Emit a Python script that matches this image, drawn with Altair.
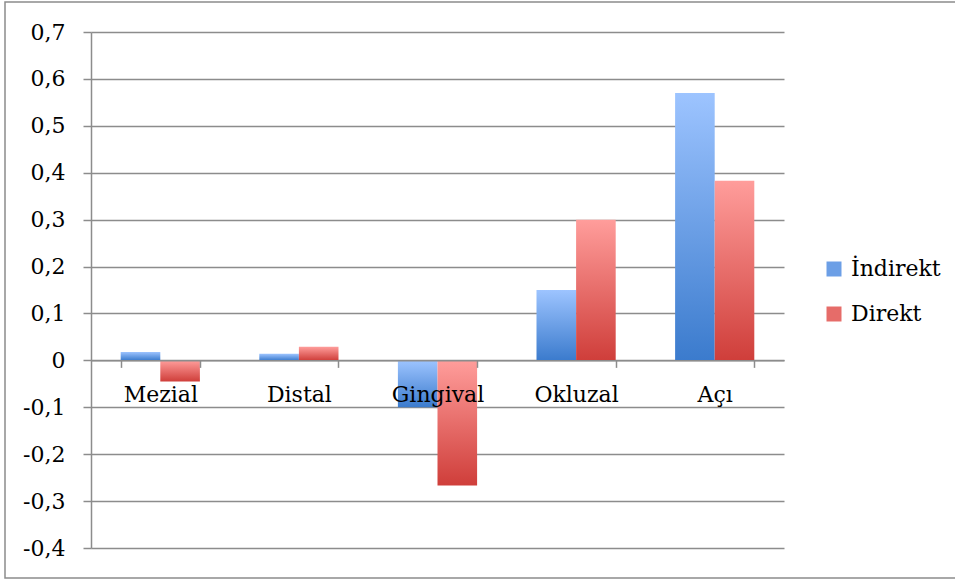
import altair as alt
import pandas as pd

categories = ["Mezial", "Distal", "Gingival", "Okluzal", "Açı"]
series = ["İndirekt", "Direkt"]
indirekt = [0.018, 0.014, -0.10, 0.15, 0.57]
direkt = [-0.045, 0.029, -0.267, 0.30, 0.383]
y_ticks = [-0.4, -0.3, -0.2, -0.1, 0.0, 0.1, 0.2, 0.3, 0.4, 0.5, 0.6, 0.7]

rows = []
for c, a, b in zip(categories, indirekt, direkt):
    rows.append({"category": c, "series": series[0], "value": a})
    rows.append({"category": c, "series": series[1], "value": b})
df = pd.DataFrame(rows)

W, H = 693, 516
YMIN, YMAX = -0.4, 0.7
zero_offset = -(0 - YMIN) / (YMAX - YMIN) * H

FONT = "DejaVu Serif"
GRID = "#8c8c8c"

blue_grad = alt.LinearGradient(
    gradient="linear",
    stops=[alt.GradientStop(color="#9dc4ff", offset=0),
           alt.GradientStop(color="#3b7bcd", offset=1)],
    x1=0, x2=0, y1=0, y2=1,
)
red_grad = alt.LinearGradient(
    gradient="linear",
    stops=[alt.GradientStop(color="#ff9d9b", offset=0),
           alt.GradientStop(color="#cf3e3a", offset=1)],
    x1=0, x2=0, y1=0, y2=1,
)

label_expr = "replace(replace(format(datum.value, '.1~f'), '.', ','), '\u2212', '-')"

base = alt.Chart(df).encode(
    x=alt.X(
        "category:N",
        sort=categories,
        scale=alt.Scale(paddingInner=0.4286, paddingOuter=0.2143),
        axis=alt.Axis(
            title=None, orient="bottom", offset=zero_offset, tickBand="extent",
            tickSize=7, tickColor=GRID, tickWidth=1.5, domainColor=GRID, domainWidth=1.5,
            labelAngle=0, labelPadding=17, labelFont=FONT, labelFontSize=22,
            labelColor="black", zindex=1, grid=False,
        ),
    ),
    xOffset=alt.XOffset("series:N", sort=series, scale=alt.Scale(paddingInner=0, paddingOuter=0)),
    y=alt.Y(
        "value:Q",
        scale=alt.Scale(domain=[YMIN, YMAX], nice=False, zero=False),
        axis=alt.Axis(
            title=None, values=y_ticks, labelExpr=label_expr, grid=True,
            gridColor=GRID, gridWidth=1.5, domainColor=GRID, domainWidth=1.5,
            tickColor=GRID, tickWidth=1.5, tickSize=8, labelPadding=18,
            labelFont=FONT, labelFontSize=22, labelColor="black",
        ),
    ),
)

bars = base.mark_bar().encode(
    fill=alt.condition(alt.datum.series == series[0], alt.value(blue_grad), alt.value(red_grad))
)

legend_layer = base.mark_point(opacity=0, filled=True, shape="square").encode(
    color=alt.Color(
        "series:N",
        sort=series,
        scale=alt.Scale(domain=series, range=["#6c9fe6", "#e66c69"]),
        legend=alt.Legend(
            title=None, orient="none", legendX=732, legendY=226,
            symbolType="square", symbolSize=225, symbolOpacity=1, symbolStrokeWidth=0,
            labelFont=FONT, labelFontSize=22, labelColor="black", labelOffset=6,
            rowPadding=23, padding=0,
        ),
    )
)

frame = alt.Chart(pd.DataFrame({"f": [0]})).mark_rect(
    fillOpacity=0, stroke=GRID, strokeWidth=1.5
).encode(
    x=alt.value(-86), x2=alt.value(870), y=alt.value(-30), y2=alt.value(546)
)

chart = alt.layer(frame, bars, legend_layer).properties(
    width=W, height=H,
    autosize=alt.AutoSizeParams(type="none"),
    padding={"left": 91, "top": 32, "right": 171, "bottom": 33},
).configure_view(strokeWidth=0)

chart.save("out.html", embed_options={"renderer": "svg", "actions": False})
